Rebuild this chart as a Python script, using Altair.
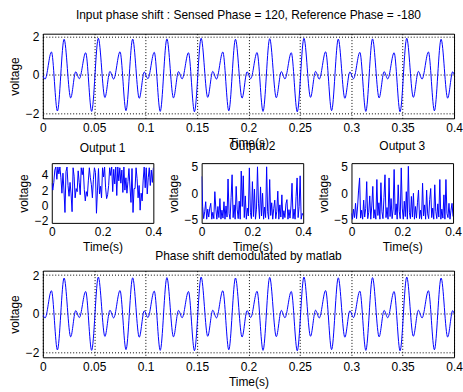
import altair as alt
import pandas as pd

# ---- input / demodulated signal (time in s, voltage) ----
T_IN = [0.0, 0.0022, 0.0084, 0.0142, 0.0207, 0.0271, 0.0320,
        0.0355, 0.0417, 0.0475, 0.0540, 0.0604, 0.0653,
        0.0689, 0.0751, 0.0809, 0.0874, 0.0938, 0.0987,
        0.1022, 0.1084, 0.1142, 0.1207, 0.1271, 0.1320,
        0.1355, 0.1417, 0.1475, 0.1540, 0.1604, 0.1653,
        0.1689, 0.1751, 0.1809, 0.1874, 0.1938, 0.1987,
        0.2022, 0.2084, 0.2142, 0.2207, 0.2271, 0.2320,
        0.2355, 0.2417, 0.2475, 0.2540, 0.2604, 0.2653,
        0.2689, 0.2751, 0.2809, 0.2874, 0.2938, 0.2987,
        0.3022, 0.3084, 0.3142, 0.3207, 0.3271, 0.3320,
        0.3355, 0.3417, 0.3475, 0.3540, 0.3604, 0.3653,
        0.3689, 0.3751, 0.3809, 0.3874, 0.3938, 0.3987,
        0.4]
V_IN = [-0.05, -0.22, 1.19, -1.88, 1.85, -1.20, 0.16,
        -0.20, 1.15, -1.90, 1.90, -1.18, 0.18,
        -0.22, 1.20, -1.86, 1.86, -1.22, 0.15,
        -0.20, 1.17, -1.90, 1.87, -1.20, 0.17,
        -0.21, 1.15, -1.92, 1.90, -1.17, 0.18,
        -0.22, 1.19, -1.87, 1.85, -1.21, 0.16,
        -0.20, 1.16, -1.90, 1.88, -1.19, 0.17,
        -0.21, 1.15, -1.92, 1.90, -1.17, 0.18,
        -0.22, 1.20, -1.86, 1.86, -1.22, 0.15,
        -0.20, 1.17, -1.90, 1.87, -1.20, 0.17,
        -0.21, 1.15, -1.92, 1.90, -1.17, 0.18,
        -0.22, 1.19, -1.87, 1.85, -1.21, 0.16,
        0.02]

# ---- the three outputs, sampled every OUT_DT seconds ----
OUT_DT = 0.004
OUT1 = [2.9, 2.0, 3.0, 4.6, 5.0, 3.4, 5.0, 4.1, 5.0, 3.6,
        1.6, 4.2, 2.0, -0.9, 4.4, 5.0, 2.6, 1.2, 3.0, 1.5,
        -0.8, 4.9, 3.8, 1.0, 2.2, 1.8, 4.5, 3.0, 1.4, 4.9,
        4.0, 4.9, 2.1, 0.6, 1.8, 1.2, 3.2, 4.9, 3.6, 2.7,
        1.0, 3.4, 4.9, 4.3, -1.0, 2.0, 4.8, 1.5, 2.5, 1.0,
        4.9, 3.7, 5.0, 2.3, 0.9, 1.4, 2.6, 4.9, 3.9, 5.0,
        1.8, 4.7, 2.8, 5.0, 1.3, 5.0, 3.2, 4.9, 2.9, 4.6,
        1.7, 5.0, 2.0, 3.6, 1.6, 3.1, 4.8, 2.4, 0.4, 4.8,
        -0.9, 2.2, 2.2, 4.9, 3.5, 1.0, 2.6, -0.6, 1.6, 0.6,
        3.3, 5.0, 2.3, 4.9, 1.5, 3.6, 4.9, 2.6, 4.6, 3.0,
        4.9]
OUT2 = [3.2, -2.5, -4.8, -3.5, -1.6, -4.9, -3.0, -4.5, -2.8, -1.9,
        -4.9, -3.6, -4.8, 0.3, -3.0, -4.9, -2.5, -4.6, -1.0, -4.9,
        -3.2, -4.7, -1.6, -4.9, -2.4, -4.5, 2.7, -3.8, -4.9, -0.8,
        3.5, -4.6, -2.2, -4.9, 1.3, -3.0, -4.8, -1.5, -4.9, 4.2,
        -2.5, 3.3, -4.6, -0.5, -4.9, -2.8, -4.3, 4.8, -3.6, -4.8,
        2.2, -4.4, 0.8, -4.9, -3.0, 5.0, -2.0, -4.8, 1.2, -4.3,
        0.0, -4.9, -2.6, -4.6, 5.0, -3.5, -4.9, 2.6, -4.2, -1.8,
        -4.9, -2.9, -1.3, -4.8, -3.4, 0.4, -4.9, -2.2, -4.5, -0.3,
        -4.9, -3.3, -4.6, -2.0, -1.2, -4.9, -3.1, -4.7, -2.4, 1.9,
        -4.8, -3.0, -4.9, -0.6, 2.9, -4.6, -2.5, 3.3, -4.9, -3.8,
        -4.2]
OUT3 = [-3.8, -4.9, -3.0, -4.6, -1.9, -4.8, -2.6, 0.6, 2.9, -4.7,
        -3.2, -4.9, -1.3, -4.5, -2.9, 2.2, -4.8, -3.6, -0.5, -4.9,
        -2.4, 1.3, -4.7, -3.1, -4.9, 2.6, -4.2, -1.8, -4.9, 2.0,
        -3.5, -4.8, -0.8, 3.5, -4.6, -2.7, -4.9, 2.9, -4.4, -1.0,
        -4.8, -3.0, 4.5, -4.1, -2.0, -4.9, 1.6, -3.4, -4.8, 4.8,
        -2.8, -4.9, -1.5, -4.4, 0.3, -4.9, 5.1, -3.6, -4.8, -0.6,
        -4.5, 0.0, -4.9, -2.5, -4.7, -1.8, 0.6, -4.8, -3.2, -4.9,
        1.9, -4.3, -2.2, -4.9, 0.6, -3.9, -4.8, -1.2, 0.9, -4.6,
        -2.8, -4.9, 1.6, -3.4, -4.8, -2.0, -4.5, 2.6, -4.9, -3.0,
        -4.7, -0.3, -4.9, 2.6, -3.8, -4.6, -1.9, -4.9, -3.2, -1.9,
        -4.4]

MAIN_X_TICKS = [0, 0.05, 0.1, 0.15, 0.2, 0.25, 0.3, 0.35, 0.4]
MAIN_Y_TICKS = [-2, 0, 2]
OUT_X_TICKS = [0, 0.2, 0.4]
OUT1_Y_TICKS = [-2, 0, 2, 4]
OUT23_Y_TICKS = [-5, 0, 5]

FONT = "Liberation Sans"
BLUE = "#0000ff"

AXIS_STYLE = dict(
    labelFont=FONT, labelFontSize=12, labelColor="black", labelPadding=4,
    labelFlush=False, labelOverlap=False,
    titleFont=FONT, titleFontSize=12, titleFontWeight="normal", titleColor="black",
    titlePadding=4, domain=False, ticks=False,
    gridColor="black", gridDash=[1, 2], gridOpacity=1, gridWidth=1,
)


def title(text, offset):
    return alt.TitleParams(text, fontSize=12, fontWeight="normal", font=FONT,
                           color="black", offset=offset, anchor="middle")


def main_panel(text, height, offset, ydomain):
    df = pd.DataFrame({"t": T_IN, "v": V_IN})
    return alt.Chart(df, title=title(text, offset)).mark_line(
        color=BLUE, strokeWidth=1, interpolate="monotone", clip=True
    ).encode(
        x=alt.X("t:Q", scale=alt.Scale(domain=[0, 0.4], nice=False, zero=False),
                axis=alt.Axis(values=MAIN_X_TICKS, format="~g", grid=True,
                              title="Time(s)", **AXIS_STYLE)),
        y=alt.Y("v:Q", scale=alt.Scale(domain=ydomain, nice=False, zero=False),
                axis=alt.Axis(values=MAIN_Y_TICKS, grid=True, title="voltage",
                              titleX=-28, titleBaseline="middle", **AXIS_STYLE)),
    ).properties(width=413, height=height)


def out_panel(text, values, ydomain, yticks):
    df = pd.DataFrame({"t": [i * OUT_DT for i in range(len(values))], "v": values})
    return alt.Chart(df, title=title(text, 8)).mark_line(
        color=BLUE, strokeWidth=1, clip=True
    ).encode(
        x=alt.X("t:Q", scale=alt.Scale(domain=[0, 0.4], nice=False, zero=False),
                axis=alt.Axis(values=OUT_X_TICKS, format="~g", grid=False,
                              title="Time(s)", **AXIS_STYLE)),
        y=alt.Y("v:Q", scale=alt.Scale(domain=ydomain, nice=False, zero=False),
                axis=alt.Axis(values=yticks, grid=False, title="voltage",
                              titleX=-28, titleBaseline="middle", **AXIS_STYLE)),
    ).properties(width=102, height=60)


def spacer(w, h):
    return alt.Chart(pd.DataFrame({"a": [0]})).mark_point(opacity=0).encode(
        x=alt.X("a:Q", axis=None), y=alt.Y("a:Q", axis=None)
    ).properties(width=w, height=h, view=alt.ViewBackground(strokeOpacity=0))


top = main_panel("Input phase shift : Sensed Phase = 120, Reference Phase = -180",
                 85, 8, [-2.26, 2.14])
bottom = main_panel("Phase shift demodulated by matlab", 87, 6, [-2.26, 2.23])

o1 = out_panel("Output 1", OUT1, [-2.25, 5.5], OUT1_Y_TICKS)
o2 = out_panel("Output 2", OUT2, [-5.6, 5.7], OUT23_Y_TICKS)
o3 = out_panel("Output 3", OUT3, [-5.6, 5.7], OUT23_Y_TICKS)

inner = alt.hconcat(o1, o2, o3, spacing=48.5, bounds="flush")
middle = alt.hconcat(spacer(9, 60), inner, spacing=0, bounds="flush")

# nested concat groups count as zero height in a flush layout, so a blank
# spacer of height 18 takes the room of the middle row
chart = alt.vconcat(top, middle, spacer(1, 18), bottom, spacing=45, bounds="flush").properties(
    padding={"left": 8, "top": 8, "right": 0, "bottom": 0},
    background="white",
).configure_view(
    stroke="black", strokeWidth=1
)

chart.save("out.html", embed_options={"renderer": "svg", "actions": False})
